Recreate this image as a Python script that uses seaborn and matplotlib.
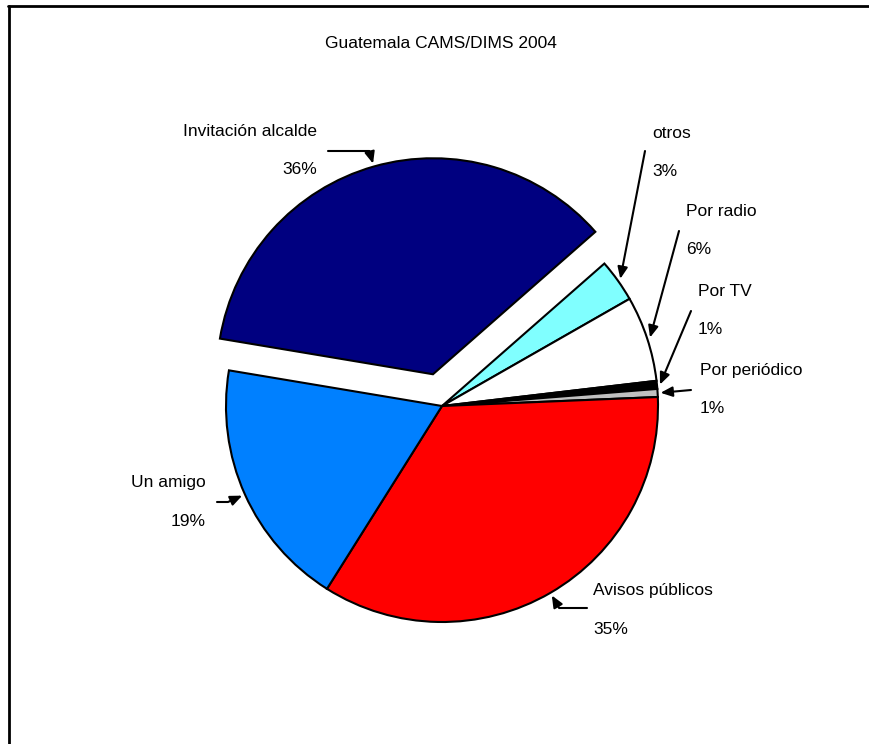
import numpy as np
import pandas as pd
import matplotlib.pyplot as plt
import seaborn as sns
from matplotlib.lines import Line2D

# datos (porcentajes)
categorias = ["Invitación alcalde", "otros", "Por radio", "Por TV",
              "Por periódico", "Avisos públicos", "Un amigo"]
porcentajes = [35.9, 3.2, 6.4, 0.6, 0.6, 34.6, 18.7]

colores = ["#000080", "#80FFFF", "#FFFFFF", "#000000",
           "#C0C0C0", "#FF0000", "#0080FF"]
separacion = [33, 0, 0, 0, 0, 0, 0]

# posiciones de las etiquetas (pixeles de la imagen) y alineacion
pos_etiqueta = [(317, 132), (652, 133), (686, 212), (698, 292),
                (700, 371), (593, 591), (206, 483)]
alineacion = ["right", "left", "left", "left", "left", "left", "right"]
# origen de las flechas y si tienen codo
pos_flecha = [(328, 151), (645, 151), (679, 231), (691, 311),
              (691, 390), (587, 608), (217, 502)]
con_codo = [True, False, False, False, False, True, True]

sns.set_theme(style="white")
plt.rcParams['font.family'] = ['Liberation Sans', 'DejaVu Sans']
plt.rcParams['text.color'] = 'black'

W, H = 870, 744
fig = plt.figure(figsize=(W / 100, H / 100), dpi=100)
fig.patch.set_facecolor("white")
ax = fig.add_axes([0, 0, 1, 1])

df = pd.DataFrame({"categoria": categorias, "valor": porcentajes})

centro = (442, H - 406)
radio = 216
wedges, _ = ax.pie(df["valor"], colors=colores, explode=separacion,
                   startangle=170.5, counterclock=False, center=centro,
                   radius=radio, frame=True,
                   wedgeprops=dict(edgecolor="black", linewidth=1.5))
ax.set_xlim(0, W)
ax.set_ylim(0, H)
ax.axis("off")

ax.text(441, H - 43, "Guatemala CAMS/DIMS 2004", ha="center", va="center",
        fontsize=12.5, color="black")

for w, cat, val, (lx, ly), ha, (tx, ty), codo in zip(
        wedges, df["categoria"], df["valor"], pos_etiqueta, alineacion,
        pos_flecha, con_codo):
    ax.text(lx, H - ly, cat, ha=ha, va="center", fontsize=12.5, color="black")
    ax.text(lx, H - ly - 38, "%d%%" % int(round(val)), ha=ha, va="center",
            fontsize=12.5, color="black")
    mid = (w.theta1 + w.theta2) / 2
    cx, cy = w.center
    hx = cx + (w.r + 3) * np.cos(np.radians(mid))
    hy = cy + (w.r + 3) * np.sin(np.radians(mid))
    estilo = "angle,angleA=0,angleB=%.1f,rad=0" % mid if codo else "arc3"
    ax.annotate("", xy=(hx, hy), xytext=(tx, H - ty),
                arrowprops=dict(arrowstyle="-|>,head_length=0.7,head_width=0.3",
                                mutation_scale=10, color="black", lw=1.5,
                                shrinkA=0, shrinkB=0, connectionstyle=estilo))

# marco del grafico (solo arriba e izquierda)
fig.add_artist(Line2D([8 / W, 1], [1 - 6 / H, 1 - 6 / H],
                      transform=fig.transFigure, color="black", lw=2))
fig.add_artist(Line2D([9 / W, 9 / W], [0, 1 - 6 / H],
                      transform=fig.transFigure, color="black", lw=2))

fig.savefig("out.png", dpi=100, facecolor="white")
